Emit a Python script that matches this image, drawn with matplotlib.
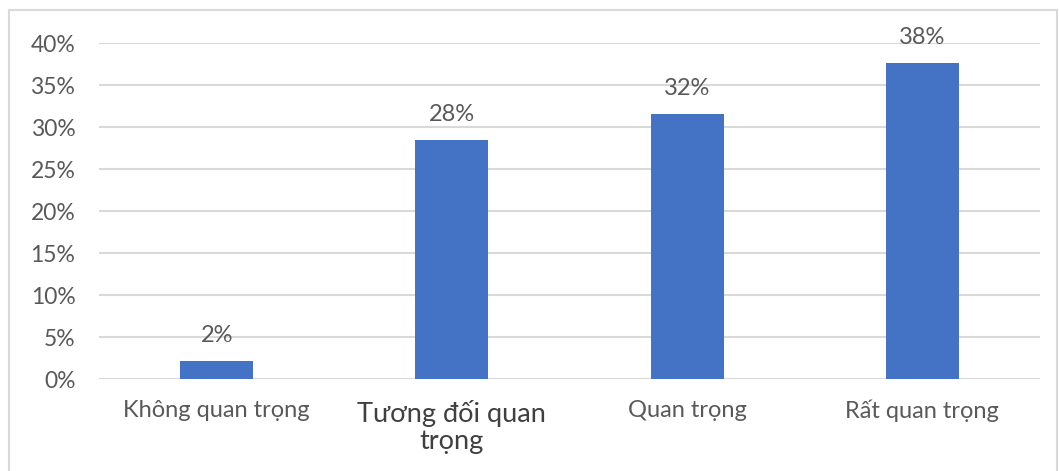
import matplotlib
matplotlib.use("Agg")
import matplotlib.pyplot as plt
from matplotlib.ticker import FuncFormatter
from matplotlib.patches import Rectangle

categories = ["Không quan trọng", "Tương đối quan\ntrọng", "Quan trọng", "Rất quan trọng"]
shares = [0.0214, 0.2845, 0.315, 0.376]
y_ticks = [0.0, 0.05, 0.10, 0.15, 0.20, 0.25, 0.30, 0.35, 0.40]

BAR = "#4472C4"
GRID = "#D9D9D9"
TEXT = "#595959"
FONT = ["Lato", "DejaVu Sans"]

fig = plt.figure(figsize=(10.59, 4.71), dpi=100)
fig.patch.set_facecolor("white")
# outer chart frame
fig.patches.append(Rectangle((9 / 1059, -0.1), (1057 - 9) / 1059, 1.1 - 10 / 471,
                             transform=fig.transFigure, fill=False,
                             edgecolor="#D9D9D9", linewidth=1.5))

ax = fig.add_axes([99 / 1059, 1 - 379 / 471, (1040 - 99) / 1059, (379 - 43) / 471])
x = list(range(len(categories)))
bars = ax.bar(x, shares, width=0.31, color=BAR, zorder=3)

ax.set_xlim(-0.5, len(categories) - 0.5)
ax.set_ylim(0, 0.40)
ax.set_yticks(y_ticks)
ax.yaxis.set_major_formatter(FuncFormatter(lambda v, _: f"{v * 100:.0f}%"))
ax.grid(axis="y", color=GRID, linewidth=1.5, zorder=0)
for s in ax.spines.values():
    s.set_visible(False)
ax.tick_params(axis="both", length=0, colors=TEXT, labelsize=16.5)
ax.tick_params(axis="y", pad=17)
ax.tick_params(axis="x", pad=15)
ax.set_xticks(x)
ax.set_xticklabels(categories, fontfamily=FONT, linespacing=1.12, va="top")
for lbl in ax.get_yticklabels():
    lbl.set_fontfamily(FONT)
for lbl in ax.get_xticklabels():
    lbl.set_fontsize(17)
ax.get_xticklabels()[1].set_fontsize(19.5)
ax.get_xticklabels()[1].set_color("#404040")

for rect, v in zip(bars, shares):
    ax.annotate(f"{v * 100:.0f}%", (rect.get_x() + rect.get_width() / 2, v),
                xytext=(0, 11), textcoords="offset points", ha="center", va="bottom",
                fontsize=17, color=TEXT, fontfamily=FONT)

fig.savefig("out.png", dpi=100)
